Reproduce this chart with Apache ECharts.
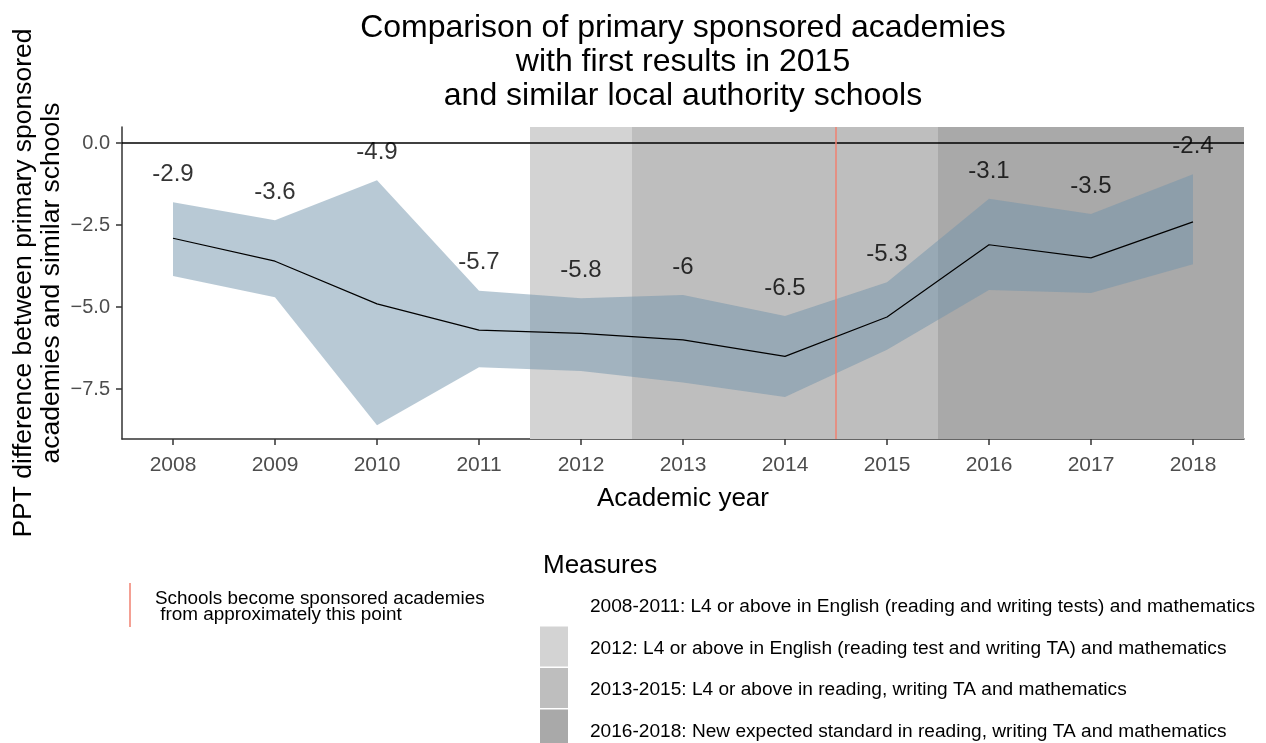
<!DOCTYPE html>
<html><head><meta charset="utf-8">
<script src="https://cdn.jsdelivr.net/npm/echarts@6/dist/echarts.min.js"></script>
<style>html,body{margin:0;padding:0;background:#fff}#c{width:1266px;height:743px}</style>
</head><body><div id="c"></div>
<script>
const years = [2008,2009,2010,2011,2012,2013,2014,2015,2016,2017,2018];
const values = [-2.9,-3.6,-4.9,-5.7,-5.8,-6,-6.5,-5.3,-3.1,-3.5,-2.4];
const upper = [-1.8,-2.35,-1.13,-4.5,-4.73,-4.63,-5.27,-4.24,-1.7,-2.16,-0.95];
const lower = [-4.05,-4.7,-8.6,-6.83,-6.95,-7.3,-7.74,-6.3,-4.48,-4.57,-3.69];
const yTicks = [0,-2.5,-5,-7.5];
const periods = [
  {from:2007.5,to:2011.5,color:'rgba(255,255,255,0)',label:'2008-2011: L4 or above in English (reading and writing tests) and mathematics'},
  {from:2011.5,to:2012.5,color:'#d3d3d3',label:'2012: L4 or above in English (reading test and writing TA) and mathematics'},
  {from:2012.5,to:2015.5,color:'#bebebe',label:'2013-2015: L4 or above in reading, writing TA and mathematics'},
  {from:2015.5,to:2018.5,color:'#a9a9a9',label:'2016-2018: New expected standard in reading, writing TA and mathematics'}
];
const academyPoint = 2014.5;
const titleText = 'Comparison of primary sponsored academies\nwith first results in 2015\nand similar local authority schools';
const FONT = '"Liberation Sans", Arial, sans-serif';

const chart = echarts.init(document.getElementById('c'));
const legendItems = [];
periods.forEach((p,i)=>{
  const y0 = 585 + i*41.5;
  legendItems.push({type:'rect',shape:{x:540,y:y0,width:28,height:40},style:{fill:p.color==='rgba(255,255,255,0)'?'#fff':p.color}});
  legendItems.push({type:'text',x:590,y:y0+22,style:{text:p.label,font:'19.1px '+FONT,fill:'#000',textVerticalAlign:'middle'}});
});
chart.setOption({
  animation:false,
  backgroundColor:'#fff',
  grid:{left:122,right:22,top:127,bottom:304,containLabel:false,outerBoundsMode:'none'},
  xAxis:{type:'value',min:2007.5,max:2018.5,
    name:'Academic year',nameLocation:'middle',nameGap:47,nameMoveOverlap:false,
    nameTextStyle:{fontFamily:FONT,fontSize:26,color:'#000'},
    splitLine:{show:false},
    axisLine:{show:true,onZero:false,lineStyle:{color:'#333',width:1.5}},
    axisTick:{show:true,length:6,lineStyle:{color:'#333',width:1.5},customValues:years},
    axisLabel:{customValues:years,fontFamily:FONT,fontSize:21,color:'#4d4d4d',margin:16,formatter:v=>String(v)}
  },
  yAxis:{type:'value',min:-9.02,max:0.49,
    name:'PPT difference between primary sponsored\nacademies and similar schools',
    nameLocation:'middle',nameRotate:90,nameGap:56,nameMoveOverlap:false,
    nameTextStyle:{fontFamily:FONT,fontSize:26.5,color:'#000',lineHeight:28},
    splitLine:{show:false},
    axisLine:{show:true,lineStyle:{color:'#333',width:1.5}},
    axisTick:{show:true,length:6,lineStyle:{color:'#333',width:1.5},customValues:yTicks},
    axisLabel:{customValues:yTicks,fontFamily:FONT,fontSize:20,color:'#4d4d4d',margin:12,formatter:v=>v.toFixed(1).replace('-','\u2212')}
  },
  series:[
    {type:'line',data:[],z:1,silent:true,
      markArea:{silent:true,data:periods.map(p=>[{xAxis:p.from,itemStyle:{color:p.color}},{xAxis:p.to}])}},
    {type:'custom',z:3,silent:true,
      data:years.map((y,i)=>[y,lower[i],upper[i]]),
      renderItem:function(params,api){
        if(params.dataIndex!==0) return null;
        const pts=[];
        for(let i=0;i<years.length;i++) pts.push(api.coord([years[i],upper[i]]));
        for(let i=years.length-1;i>=0;i--) pts.push(api.coord([years[i],lower[i]]));
        return {type:'polygon',shape:{points:pts},style:{fill:'rgba(113,147,171,0.5)'}};
      }},
    {type:'line',z:5,data:years.map((y,i)=>[y,values[i]]),symbol:'none',
      lineStyle:{color:'#000',width:1.2},
      markLine:{silent:true,symbol:'none',label:{show:false},
        data:[{yAxis:0,lineStyle:{color:'#000',width:1.5,type:'solid'}},
              {xAxis:academyPoint,lineStyle:{color:'#f08070',width:1.5,type:'solid'}}]}},
    {type:'scatter',z:6,symbolSize:0,silent:true,
      data:years.map((y,i)=>({value:[y,upper[i]+0.85],lbl:String(values[i])})),
      label:{show:true,position:'inside',formatter:p=>p.data.lbl,fontFamily:FONT,fontSize:24,color:'#000'}}
  ],
  graphic:[
    {type:'text',x:683,y:62,style:{text:titleText,font:'32px '+FONT,fill:'#000',textAlign:'center',textVerticalAlign:'middle',lineHeight:34}},
    {type:'line',shape:{x1:130,y1:583,x2:130,y2:627},style:{stroke:'#f08070',lineWidth:1.5}},
    {type:'text',x:155,y:607,style:{text:'Schools become sponsored academies\n from approximately this point',font:'18.9px '+FONT,fill:'#000',textVerticalAlign:'middle',lineHeight:16.5}},
    {type:'text',x:543,y:566,style:{text:'Measures',font:'26px '+FONT,fill:'#000',textVerticalAlign:'middle'}},
    ...legendItems
  ]
});
</script></body></html>
